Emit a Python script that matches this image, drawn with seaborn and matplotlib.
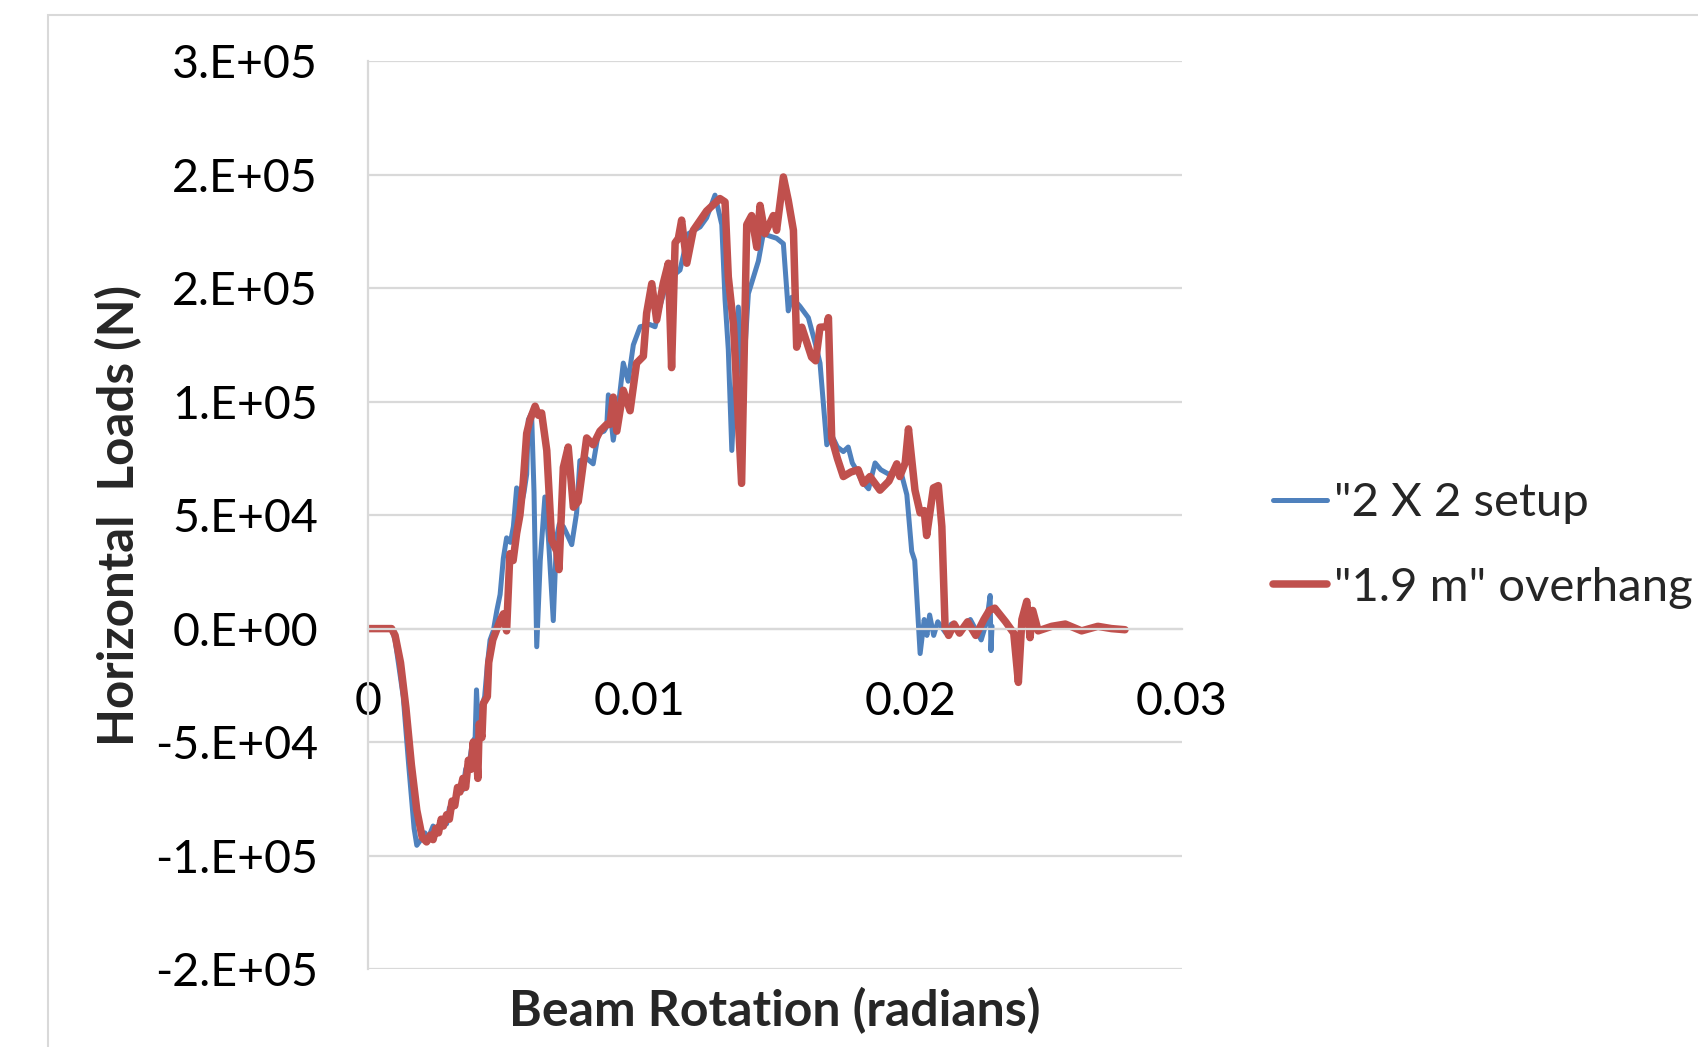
import numpy as np
import pandas as pd
import seaborn as sns
import matplotlib
matplotlib.use("Agg")
import matplotlib.pyplot as plt
from matplotlib.patches import Rectangle

# beam rotation in 1e-3 rad, horizontal load in kN
rot_2x2 = [0, 0.87, 1.0, 1.3, 1.5, 1.7, 1.8, 1.95, 2.1, 2.2, 2.4, 2.55, 2.7, 2.9, 3.0,
           3.2, 3.35, 3.5, 3.6, 3.75, 3.85, 3.95, 4.0, 4.05, 4.2, 4.3, 4.4, 4.5, 4.62,
           4.75, 4.87, 4.99, 5.11, 5.25, 5.36, 5.48, 5.6, 5.75, 5.85, 5.91, 6.03, 6.12,
           6.22, 6.35, 6.52, 6.65, 6.83, 6.95, 7.05, 7.2, 7.32, 7.51, 7.69, 7.81, 8.06,
           8.3, 8.49, 8.7, 8.8, 8.86, 9.04, 9.2, 9.41, 9.59, 9.78, 10.03, 10.39, 10.58,
           10.76, 10.95, 11.2, 11.5, 11.81, 12.24, 12.48, 12.79, 13.04, 13.16, 13.28,
           13.41, 13.65, 13.8, 14.02, 14.39, 14.57, 14.8, 15.06, 15.31, 15.49, 15.62,
           15.92, 16.23, 16.5, 16.66, 16.91, 17.1, 17.3, 17.52, 17.7, 17.85, 18.0, 18.2,
           18.45, 18.69, 18.9, 19.2, 19.6, 19.86, 20.04, 20.15, 20.35, 20.5, 20.6, 20.7,
           20.85, 21.0, 21.3, 21.5, 21.8, 22.2, 22.6, 22.8, 22.93, 22.96, 23.0]
load_2x2 = [0, 0, -5, -30, -60, -88, -95.5, -93, -90, -93, -87, -89, -84, -86, -79,
            -76, -70, -71, -62, -58, -50, -48, -27, -40, -34, -30, -16, -5, -1,
            8, 15, 31, 40, 38, 45, 62, 52, 60, 68, 92, 95, 60,
            -8, 30, 58, 40, 3.5, 40, 46, 45, 42, 37, 51, 74, 75,
            72.6, 86, 87, 89, 103, 83, 95, 117, 109, 125, 133, 134, 133,
            142, 150, 155, 158, 174, 177, 181, 191, 178, 145, 123,
            78.5, 141.7, 105, 147.6, 162, 174, 173, 172, 169.6, 140, 146,
            142, 137, 125, 117, 81, 85, 80, 78, 80, 73, 70, 65,
            61.6, 73, 70, 68, 71, 59, 34, 30, -11, 4, -3, 6,
            -3, 3, -2, 2, -1, 4, -5, 3, 14.6, -9.7, 1]

rot_overhang = [0, 0.87, 1.0, 1.2, 1.4, 1.6, 1.8, 2.0, 2.16, 2.3, 2.4, 2.5, 2.6, 2.7,
                2.78, 2.9, 3.0, 3.1, 3.2, 3.3, 3.39, 3.5, 3.6, 3.7, 3.8, 3.88, 3.95, 4.0,
                4.05, 4.1, 4.2, 4.25, 4.4, 4.45, 4.6, 4.87, 4.99, 5.11, 5.23, 5.35, 5.48,
                5.6, 5.72, 5.85, 5.97, 6.16, 6.28, 6.4, 6.59, 6.77, 6.96, 7.04, 7.2, 7.38,
                7.57, 7.75, 8.06, 8.3, 8.55, 8.8, 8.92, 9.04, 9.17, 9.41, 9.66, 9.9, 10.15,
                10.27, 10.46, 10.64, 10.88, 11.07, 11.19, 11.32, 11.44, 11.56, 11.75, 11.99,
                12.48, 12.97, 13.16, 13.28, 13.47, 13.77, 13.96, 14.14, 14.33, 14.45, 14.63,
                14.94, 15.06, 15.31, 15.49, 15.68, 15.8, 15.99, 16.35, 16.5, 16.66, 16.91,
                16.97, 17.09, 17.3, 17.52, 17.8, 18.07, 18.26, 18.5, 18.87, 19.2, 19.49,
                19.6, 19.8, 19.92, 20.16, 20.35, 20.5, 20.59, 20.84, 21.02, 21.15, 21.27,
                21.4, 21.6, 21.8, 22.1, 22.4, 22.7, 22.9, 23.1, 23.3, 23.5, 23.8, 23.97,
                24.1, 24.28, 24.4, 24.5, 24.7, 25.2, 25.7, 26.3, 26.9, 27.4, 27.9]
load_overhang = [0, 0, -3, -15, -35, -60, -80, -92, -94, -91, -93, -88, -90, -84,
                 -87, -82, -84, -76, -78, -70, -72, -66, -70, -58, -62, -50, -58, -55,
                 -66, -42, -48, -33, -30, -15, -5, 3.5, 6.5, -1, 33, 30, 42,
                 50, 64, 86, 92, 98, 94, 95, 78.5, 39, 34, 26, 71, 80,
                 53.5, 56, 84, 81, 87, 90, 90, 102, 87, 105, 96, 117, 120,
                 139, 152, 136, 152, 161, 115, 170, 172, 180, 161, 175.5,
                 184, 189.5, 188, 155, 134, 64, 178, 182, 168, 186.5, 174,
                 182, 175.5, 199, 188.7, 175.5, 124, 132.8, 119.6, 118, 132.8, 133,
                 137, 84, 75, 67, 69, 70, 64, 67, 61, 65, 72.6,
                 67, 73, 88, 61, 51, 52, 41, 62, 63, 45, 0.6,
                 -3, 2, -2, 3, -3, 4, 8, 9, 6, 3, -2, -23.7,
                 4, 12, -4, 8, -1, 1, 2, -1, 1, 0, -0.5]

series_names = ['"2 X 2 setup', '"1.9 m" overhang']
y_ticks = [-150000, -100000, -50000, 0, 50000, 100000, 150000, 200000, 250000]
y_ticklabels = ["-2.E+05", "-1.E+05", "-5.E+04", "0.E+00", "5.E+04",
                "1.E+05", "2.E+05", "2.E+05", "3.E+05"]
x_ticks = [0, 0.01, 0.02, 0.03]
x_ticklabels = ["0", "0.01", "0.02", "0.03"]

df = pd.concat([
    pd.DataFrame({"rot": np.array(rot_2x2) / 1000, "load": np.array(load_2x2) * 1000,
                  "series": series_names[0]}),
    pd.DataFrame({"rot": np.array(rot_overhang) / 1000, "load": np.array(load_overhang) * 1000,
                  "series": series_names[1]}),
])

sns.set_theme(style="white")
plt.rcParams["font.family"] = ["Lato", "DejaVu Sans"]

fig = plt.figure(figsize=(16.98, 10.47), dpi=100)
ax = fig.add_axes([0.2167, 0.0745, 0.4794, 0.867])

colors = {series_names[0]: "#4F81BD", series_names[1]: "#C0504D"}
widths = {series_names[0]: 3.6, series_names[1]: 5.4}
for name in series_names:
    sns.lineplot(data=df[df.series == name], x="rot", y="load", color=colors[name],
                 linewidth=widths[name], sort=False, estimator=None, ax=ax, label=name)

ax.set_xlim(0, 0.03)
ax.set_ylim(-150000, 250000)
ax.set_yticks(y_ticks)
ax.set_yticklabels(y_ticklabels)
ax.set_xticks(x_ticks)
ax.set_xticklabels(x_ticklabels)
ax.tick_params(axis="both", length=0, labelsize=33.5, colors="black")
ax.tick_params(axis="x", pad=38)
ax.tick_params(axis="y", pad=36)

ax.yaxis.grid(True, color="#D9D9D9", linewidth=1.6)
ax.set_axisbelow(True)
for s in ["top", "right"]:
    ax.spines[s].set_visible(False)
ax.spines["left"].set_color("#D9D9D9")
ax.spines["left"].set_linewidth(1.6)
ax.spines["bottom"].set_position(("data", 0))
ax.spines["bottom"].set_color("#D9D9D9")
ax.spines["bottom"].set_linewidth(1.6)

ax.set_xlabel("Beam Rotation (radians)", fontsize=36, fontweight="bold", labelpad=0)
ax.xaxis.set_label_coords(0.5, -0.02)
ax.set_ylabel("Horizontal  Loads (N)", fontsize=35.5, fontweight="bold")
ax.yaxis.set_label_coords(-0.277, 0.5)

ax.legend(loc="center left", bbox_to_anchor=(0.7495, 0.479), bbox_transform=fig.transFigure,
          frameon=False, fontsize=34, handlelength=1.15, handletextpad=0.15,
          labelspacing=0.9, borderpad=0, borderaxespad=0)

fig.patches.append(Rectangle((48 / 1698, -0.1), 1.2, 0.1 + 1 - 15 / 1047,
                             transform=fig.transFigure, fill=False,
                             edgecolor="#D9D9D9", linewidth=1.5))

fig.savefig("out.png", dpi=100)
